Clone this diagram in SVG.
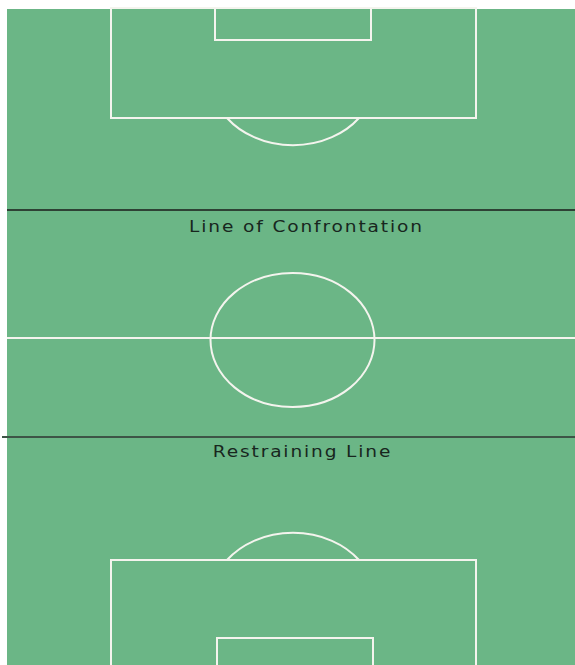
<svg xmlns="http://www.w3.org/2000/svg" width="575" height="665" viewBox="0 0 575 665">
<style>
.pitch{fill:none;stroke:#f4f4ee;stroke-width:2}
.lbl{font-family:"DejaVu Sans",Verdana,sans-serif;font-size:15px;fill:#18261e;letter-spacing:1.5px;text-anchor:middle}
</style>
<rect x="0" y="0" width="575" height="665" fill="#ffffff"/>
<rect id="field" x="7" y="9" width="568" height="656" fill="#6bb686"/>
<g id="top-half">
<rect class="pitch" x="111" y="8" width="365" height="110"/>
<rect class="pitch" x="215" y="8" width="156" height="32"/>
<path class="pitch" d="M227,118 A82,67 0 0 0 359,118"/>
</g>
<g id="centre">
<line class="pitch" x1="7" y1="338" x2="575" y2="338"/>
<ellipse class="pitch" cx="292.5" cy="340" rx="82" ry="67"/>
</g>
<g id="bottom-half">
<rect class="pitch" x="111" y="560" width="365" height="110"/>
<rect class="pitch" x="217" y="638" width="156" height="32"/>
<path class="pitch" d="M227,560 A82,67 0 0 1 359,560"/>
</g>
<g id="connectors">
<line x1="7" y1="210" x2="575" y2="210" stroke="#1a1a1a" stroke-width="1.5"/>
<line x1="2" y1="437" x2="575" y2="437" stroke="#3d5446" stroke-width="2"/>
</g>
<g id="confrontation">
<text class="lbl" transform="translate(306.5,232) scale(1.24,1)">Line of Confrontation</text>
</g>
<g id="restraining">
<text class="lbl" transform="translate(302.5,457) scale(1.24,1)">Restraining Line</text>
</g>
</svg>
